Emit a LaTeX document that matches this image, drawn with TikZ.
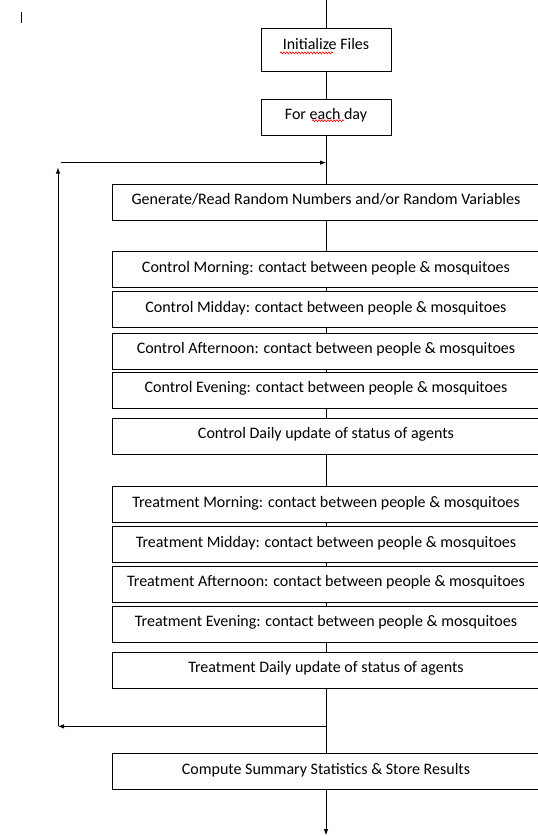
\documentclass[tikz,border=0pt]{standalone}
\usepackage{fontspec}
\setmainfont{Carlito}
\usetikzlibrary{positioning,arrows.meta,decorations.pathmorphing}

\tikzset{
  stepbox/.style={draw, line width=0.8pt, minimum height=36pt, inner sep=2pt,
    text height=11pt, text depth=6pt, font=\fontsize{16}{18}\selectfont},
  smallbox/.style={stepbox, minimum width=130pt},
  widebox/.style={stepbox, minimum width=428pt},
  flow/.style={line width=0.8pt},
  arrowline/.style={line width=0.8pt, -{Latex[length=6pt,width=4.5pt]}},
  spellmark/.style={red, line width=0.6pt, decorate,
    decoration={snake, amplitude=1pt, segment length=3pt}}
}

\begin{document}
\begin{tikzpicture}[x=1pt,y=-1pt]
  \useasboundingbox (0,0) rectangle (538,836);

  % cursor mark
  \draw[flow] (21,12) -- (21,23);

  \coordinate (top) at (326,0);
  \node[smallbox, minimum height=43pt, text depth=12pt, anchor=north] (init) at (326,28) {Initialize Files};
  \node[smallbox, below=27pt of init] (day) {For each day};
  \node[widebox, below=48pt of day] (gen) {Generate/Read Random Numbers and/or Random Variables};

  % control
  \node[widebox, below=31pt of gen] (cmorn) {Control Morning: contact between people \& mosquitoes};
  \node[widebox, below=3pt of cmorn] (cmid) {Control Midday: contact between people \& mosquitoes};
  \node[widebox, below=5pt of cmid] (caft) {Control Afternoon: contact between people \& mosquitoes};
  \node[widebox, below=2pt of caft] (ceve) {Control Evening: contact between people \& mosquitoes};
  \node[widebox, below=9pt of ceve] (cday) {Control Daily update of status of agents};

  % treatment
  \node[widebox, below=32pt of cday] (tmorn) {Treatment Morning: contact between people \& mosquitoes};
  \node[widebox, below=3pt of tmorn] (tmid) {Treatment Midday: contact between people \& mosquitoes};
  \node[widebox, below=3pt of tmid] (taft) {Treatment Afternoon: contact between people \& mosquitoes};
  \node[widebox, below=3pt of taft] (teve) {Treatment Evening: contact between people \& mosquitoes};
  \node[widebox, below=9pt of teve] (tday) {Treatment Daily update of status of agents};

  \node[widebox, below=65pt of tday] (comp) {Compute Summary Statistics \& Store Results};
  \coordinate[below=45pt of comp.south] (end);

  % spell check marks
  \draw[spellmark] ([xshift=-46pt,yshift=-3pt]init.center) -- ([xshift=7pt,yshift=-3pt]init.center);
  \draw[spellmark] ([xshift=-14pt,yshift=-3.5pt]day.center) -- ([xshift=18pt,yshift=-3.5pt]day.center);

  % main flow
  \draw[flow] (top) -- (init) -- (day) -- (gen) -- (cmorn) -- (cmid) -- (caft) -- (ceve) -- (cday)
    -- (tmorn) -- (tmid) -- (taft) -- (teve) -- (tday) -- (comp);
  \draw[arrowline] (comp) -- (end);

  % loop back
  \coordinate[below=27pt of day.south] (join);
  \coordinate[below=38pt of tday.south] (back);
  \coordinate[left=268pt of back] (backL);
  \coordinate[left=268pt of join] (topL);
  \draw[arrowline] (back) -- (backL);
  \draw[arrowline] (backL) -- ([yshift=-5pt]topL);
  \draw[arrowline] ([xshift=3pt]topL) -- (join);
\end{tikzpicture}
\end{document}
